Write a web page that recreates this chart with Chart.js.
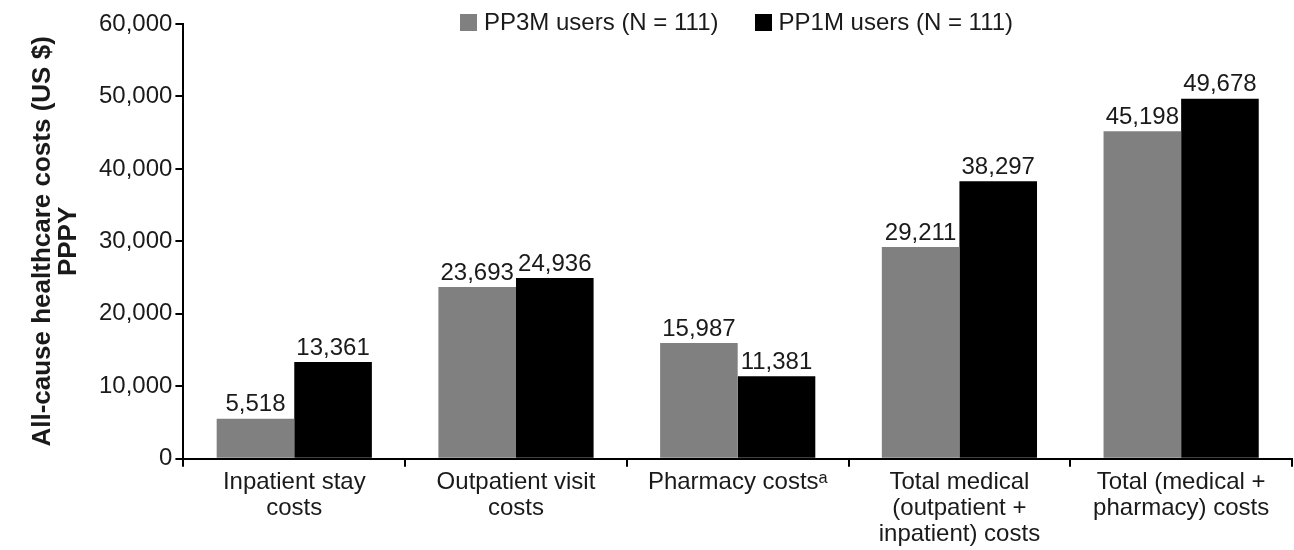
<!DOCTYPE html>
<html>
<head>
<meta charset="utf-8">
<script src="https://cdn.jsdelivr.net/npm/chart.js@4.4.1/dist/chart.umd.min.js"></script>
<style>
  html, body { margin: 0; padding: 0; background: #fff; }
  #wrap { position: relative; width: 1294px; height: 550px; }
  #legend { position: absolute; top: 8px; left: 460px; display: flex; font: 24px "Liberation Sans", Arial, sans-serif; color: #1a1a1a; line-height: 28px; }
  #legend span.item { display: flex; align-items: center; margin-right: 36px; }
  #legend i { display: inline-block; width: 17px; height: 17px; margin-right: 7px; }
</style>
</head>
<body>
<div id="wrap">
  <canvas id="costChart" width="1294" height="550"></canvas>
  <div id="legend"></div>
</div>
<script>
const categories = [
    ['Inpatient stay', 'costs'],
    ['Outpatient visit', 'costs'],
    ['Pharmacy costs\u1D43'],
    ['Total medical', '(outpatient +', 'inpatient) costs'],
    ['Total (medical +', 'pharmacy) costs']
];
const pp3mValues = [5518, 23693, 15987, 29211, 45198];
const pp1mValues = [13361, 24936, 11381, 38297, 49678];
const seriesNames = ['PP3M users (N = 111)', 'PP1M users (N = 111)'];
const seriesColors = ['#808080', '#000000'];
const yTicks = [0, 10000, 20000, 30000, 40000, 50000, 60000];

const FONT = '"Liberation Sans", Arial, sans-serif';
const INK = '#1a1a1a';

// value labels sitting just above each bar
const barLabels = {
    id: 'barLabels',
    afterDatasetsDraw(chart) {
        const ctx = chart.ctx;
        ctx.save();
        ctx.font = '24px ' + FONT;
        ctx.fillStyle = INK;
        ctx.textAlign = 'center';
        ctx.textBaseline = 'bottom';
        chart.data.datasets.forEach((ds, i) => {
            chart.getDatasetMeta(i).data.forEach((bar, j) => {
                ctx.fillText(ds.data[j].toLocaleString('en-US'), bar.x, bar.y - 2);
            });
        });
        ctx.restore();
    }
};

document.getElementById('legend').innerHTML = seriesNames.map((name, i) => {
    return '<span class="item"><i style="background:' + seriesColors[i] + '"></i>' + name + '</span>';
}).join('');

new Chart(document.getElementById('costChart'), {
    type: 'bar',
    data: {
        labels: categories,
        datasets: [
            { label: seriesNames[0], data: pp3mValues, backgroundColor: seriesColors[0] },
            { label: seriesNames[1], data: pp1mValues, backgroundColor: seriesColors[1] }
        ]
    },
    options: {
        responsive: false,
        animation: false,
        layout: { padding: { top: 24, right: 2, left: 30, bottom: 0 } },
        datasets: { bar: { categoryPercentage: 0.7, barPercentage: 1.0 } },
        plugins: {
            legend: { display: false },
            tooltip: { enabled: false }
        },
        scales: {
            x: {
                offset: true,
                grid: { drawOnChartArea: false, offset: true, tickLength: 8, color: '#000', lineWidth: 2 },
                border: { color: '#000', width: 2 },
                ticks: { color: INK, font: { family: FONT, size: 24, lineHeight: 1.1 }, maxRotation: 0, autoSkip: false, padding: 2 }
            },
            y: {
                min: 0,
                max: 60000,
                afterBuildTicks(axis) { axis.ticks = yTicks.map(v => ({ value: v })); },
                grid: { drawOnChartArea: false, tickLength: 8, color: '#000', lineWidth: 2 },
                border: { color: '#000', width: 2 },
                ticks: {
                    color: INK,
                    font: { family: FONT, size: 24 },
                    padding: 3,
                    callback: (v) => v.toLocaleString('en-US')
                },
                title: {
                    display: true,
                    text: ['All-cause healthcare costs (US $)', 'PPPY'],
                    color: INK,
                    font: { family: FONT, size: 26, weight: 'bold', lineHeight: 1.0 },
                    padding: { top: 0, bottom: 14 }
                }
            }
        }
    },
    plugins: [barLabels]
});
</script>
</body>
</html>
